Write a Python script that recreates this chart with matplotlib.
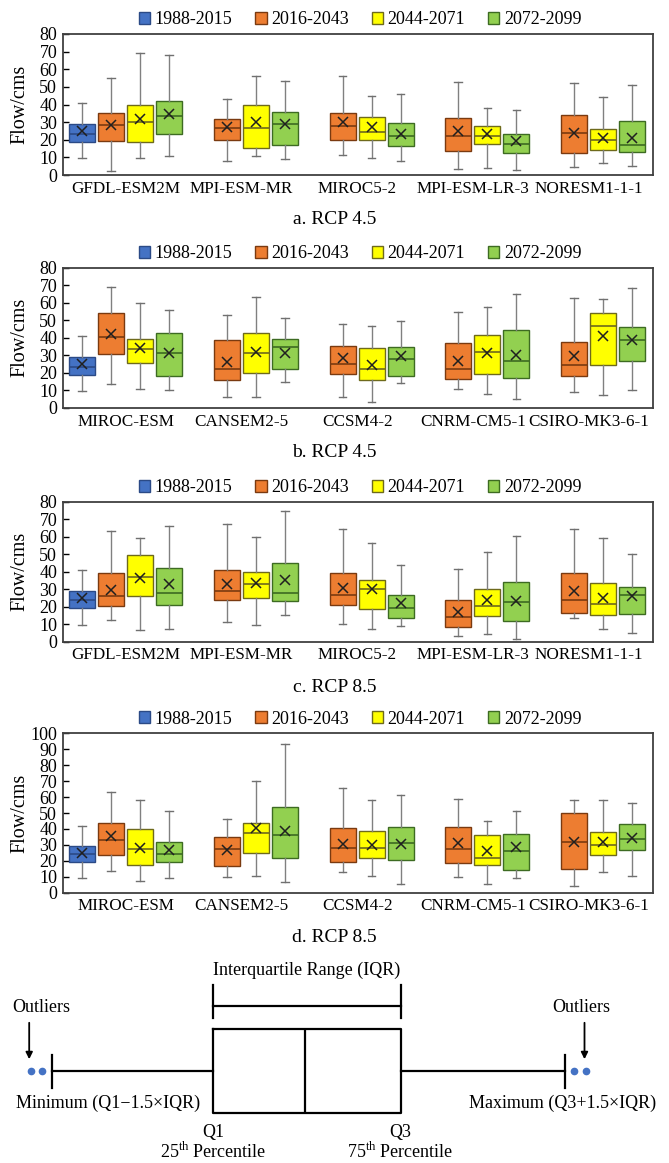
import numpy as np
import matplotlib
matplotlib.use("Agg")
import matplotlib.pyplot as plt
from matplotlib.patches import Patch

plt.rcParams['font.family'] = ['Liberation Serif', 'DejaVu Serif']
plt.rcParams['mathtext.fontset'] = 'custom'
plt.rcParams['mathtext.rm'] = 'Liberation Serif'

nan = np.nan

periods = ['1988-2015', '2016-2043', '2044-2071', '2072-2099']
fill_colors = ['#4472C4', '#ED7D31', '#FFFF00', '#92D050']
edge_colors = ['#2B4A86', '#7A3A10', '#6E6A1C', '#3D6B22']

models_1 = ['GFDL-ESM2M', 'MPI-ESM-MR', 'MIROC5-2', 'MPI-ESM-LR-3', 'NORESM1-1-1']
models_2 = ['MIROC-ESM', 'CANSEM2-5', 'CCSM4-2', 'CNRM-CM5-1', 'CSIRO-MK3-6-1']

# each stat: rows = periods, columns = models (nan = no box)
# a. RCP 4.5
a_low = [[9.5, nan, nan, nan, nan], [2.5, 8, 11.5, 3.5, 4.5], [9.5, 10.5, 9.5, 4, 7], [10.5, 9, 8, 3, 5]]
a_q1 = [[19, nan, nan, nan, nan], [19.5, 20, 20, 13.5, 12.5], [19, 15.5, 20, 17.5, 14], [23.5, 17, 16.5, 12.5, 13]]
a_med = [[23.5, nan, nan, nan, nan], [28.5, 26.5, 28, 22, 24], [30, 26.5, 24.5, 22, 20], [33.5, 29, 22, 17.5, 17]]
a_q3 = [[29, nan, nan, nan, nan], [35, 31.5, 35, 32.5, 34], [39.5, 40, 33, 28, 26], [42, 35.5, 29.5, 23.5, 30.5]]
a_high = [[41, nan, nan, nan, nan], [55, 43, 56, 53, 52], [69, 56, 45, 38, 44], [68, 53.5, 46, 37, 51]]
a_mean = [[25, nan, nan, nan, nan], [28.5, 27, 30, 25, 24], [32, 30, 27, 23.5, 21], [34.5, 29, 23, 19.5, 21]]

# b. RCP 4.5
b_low = [[9.5, nan, nan, nan, nan], [13.5, 6, 6.5, 11, 9], [11, 6.5, 3.5, 8, 7.5], [10.5, 15, 14.5, 5, 10]]
b_q1 = [[19, nan, nan, nan, nan], [31, 16, 19.5, 16.5, 18], [25.5, 20, 16, 19.5, 24.5], [18.5, 22, 18, 17, 27]]
b_med = [[23.5, nan, nan, nan, nan], [40.5, 22, 25, 22.5, 24.5], [33.5, 31.5, 22, 32, 46.5], [31.5, 34.5, 28, 27, 39]]
b_q3 = [[29, nan, nan, nan, nan], [54, 38.5, 35.5, 37, 37.5], [39.5, 42.5, 34, 41.5, 54], [42.5, 39.5, 35, 44.5, 46]]
b_high = [[41, nan, nan, nan, nan], [69, 53, 48, 55, 63], [60, 63.5, 46.5, 57.5, 62], [56, 51.5, 49.5, 65, 68.5]]
b_mean = [[25, nan, nan, nan, nan], [42, 26, 28.5, 27, 29.5], [34, 32, 24.5, 31.5, 41], [31.5, 31.5, 29.5, 30, 39]]

# c. RCP 8.5
c_low = [[9.5, nan, nan, nan, nan], [12.5, 11, 10, 3, 13.5], [6.5, 9.5, 7.5, 4.5, 7], [7.5, 15.5, 9, 1.5, 5]]
c_q1 = [[19, nan, nan, nan, nan], [20.5, 24, 21, 8.5, 16.5], [26, 25, 18.5, 14.5, 15.5], [21, 23.5, 13.5, 12, 16]]
c_med = [[24, nan, nan, nan, nan], [26, 29, 26.5, 14, 24], [37, 33, 30, 20.5, 21.5], [28, 28, 19.5, 22.5, 26.5]]
c_q3 = [[29, nan, nan, nan, nan], [39, 41, 39.5, 24, 39], [49.5, 40, 35.5, 30, 33.5], [42, 45, 26.5, 34, 31]]
c_high = [[41, nan, nan, nan, nan], [63.5, 67, 64.5, 41.5, 64.5], [59, 60, 56.5, 51, 59], [66, 74.5, 44, 60.5, 50]]
c_mean = [[25, nan, nan, nan, nan], [29.5, 33, 30.5, 17, 29], [36.5, 33.5, 30, 24, 25], [33, 35.5, 22, 23, 26]]

# d. RCP 8.5
d_low = [[9.5, nan, nan, nan, nan], [13.5, 10, 13, 10, 4], [7.5, 10.5, 10.5, 5.5, 13], [9.5, 7, 5.5, 9, 10.5]]
d_q1 = [[19, nan, nan, nan, nan], [23.5, 17, 19, 18.5, 15], [17.5, 25, 21.5, 17.5, 23.5], [19, 21.5, 20.5, 14.5, 26.5]]
d_med = [[24.5, nan, nan, nan, nan], [33, 27.5, 28, 27.5, 32], [27.5, 37.5, 28, 22, 30], [24.5, 36.5, 31, 26, 33.5]]
d_q3 = [[29, nan, nan, nan, nan], [44, 35, 40.5, 41, 50], [40, 44, 38.5, 36, 38], [32, 53.5, 41.5, 37, 43]]
d_high = [[42, nan, nan, nan, nan], [63, 46, 65.5, 59, 58], [58, 70, 58, 45, 58], [51.5, 93, 61.5, 51, 56]]
d_mean = [[25, nan, nan, nan, nan], [35.5, 27, 30.5, 31, 32], [28, 40.5, 30, 26, 31.5], [26.5, 39, 30.5, 28.5, 34.5]]

panels = [
    ('a. RCP 4.5', models_1, (a_low, a_q1, a_med, a_q3, a_high, a_mean), 80),
    ('b. RCP 4.5', models_2, (b_low, b_q1, b_med, b_q3, b_high, b_mean), 80),
    ('c. RCP 8.5', models_1, (c_low, c_q1, c_med, c_q3, c_high, c_mean), 80),
    ('d. RCP 8.5', models_2, (d_low, d_q1, d_med, d_q3, d_high, d_mean), 100),
]

# schematic (horizontal box, in pixel-like units)
sch_fliers_lo = [30.7, 42.3]
sch_fliers_hi = [574, 586]
sch_stats = dict(whislo=52.3, q1=213.3, med=305, q3=400.7, whishi=565)

W, H = 669, 1163
fig = plt.figure(figsize=(W / 100, H / 100), dpi=100)

# axes placement in pixels: (top, bottom), caption y
axes_px = [(34, 175, 219), (267.7, 408, 452), (501.7, 641.7, 687), (733.3, 892.7, 937)]
left_px, right_px = 62.7, 652.7

slot = 0.251
box_w = 0.225

for (caption, models, stats, ymax), (top, bot, cap_y) in zip(panels, axes_px):
    ax = fig.add_axes([left_px / W, 1 - bot / H, (right_px - left_px) / W, (bot - top) / H])
    low, q1, med, q3, high, mean = [np.array(s, dtype=float) for s in stats]
    for j in range(len(periods)):
        bstats, pos = [], []
        for i in range(len(models)):
            if np.isnan(q1[j, i]):
                continue
            bstats.append(dict(whislo=low[j, i], q1=q1[j, i], med=med[j, i], q3=q3[j, i],
                               whishi=high[j, i], mean=mean[j, i], fliers=[]))
            pos.append(i + (j - 1.5) * slot)
        ax.bxp(bstats, positions=pos, widths=box_w, patch_artist=True, showmeans=True,
               capwidths=0.066,
               boxprops=dict(facecolor=fill_colors[j], edgecolor=edge_colors[j], linewidth=1.0),
               medianprops=dict(color=edge_colors[j], linewidth=1.2),
               whiskerprops=dict(color='#808080', linewidth=1.0),
               capprops=dict(color='#707070', linewidth=1.0),
               meanprops=dict(marker='x', markersize=6.5, markeredgecolor='#202020',
                              markeredgewidth=1.1),
               zorder=3)
    ax.set_xlim(-0.545, 4.555)
    ax.set_ylim(0, ymax)
    ax.set_yticks(np.arange(0, ymax + 1, 10))
    ax.set_xticks(range(len(models)))
    ax.set_xticklabels(models)
    ax.tick_params(axis='y', direction='in', length=4, width=1.0, labelsize=13, pad=4)
    ax.tick_params(axis='x', length=0, labelsize=12.3, pad=4)
    for sp in ax.spines.values():
        sp.set_color('#404040')
        sp.set_linewidth(1.3)
    ax.set_ylabel('Flow/cms', fontsize=14.5)
    ax.yaxis.set_label_coords(-0.056, 0.5)

    handles = [Patch(facecolor=c, edgecolor=e, linewidth=1.0) for c, e in zip(fill_colors, edge_colors)]
    h_px = bot - top
    ax.legend(handles, periods, loc='center', bbox_to_anchor=(0.504, 1 + 14 / h_px), ncol=4,
              frameon=False, fontsize=13, handlelength=0.64, handleheight=0.64,
              handletextpad=0.25, columnspacing=1.25, borderaxespad=0, borderpad=0)
    fig.text(0.5, 1 - cap_y / H, caption, ha='center', va='center', fontsize=14)

# ---- box plot explanation at the bottom ----
top_s, bot_s = 930, 1163
sx = fig.add_axes([0, 1 - bot_s / H, 1, (bot_s - top_s) / H])
sx.set_xlim(0, W)
sx.set_ylim(bot_s, top_s)
sx.axis('off')

box_y, box_h = 1071, 84
sx.bxp([dict(sch_stats, fliers=[])], positions=[box_y], widths=box_h, orientation='horizontal',
       capwidths=33, showfliers=False,
       boxprops=dict(color='black', linewidth=1.6),
       medianprops=dict(color='black', linewidth=1.6),
       whiskerprops=dict(color='black', linewidth=1.6),
       capprops=dict(color='black', linewidth=1.6))
sx.plot(sch_fliers_lo + sch_fliers_hi, [box_y] * 4, 'o', color='#4472C4', markersize=4.5)

# IQR bracket
iq_y = 1006
sx.plot([sch_stats['q1'], sch_stats['q3']], [iq_y, iq_y], color='black', lw=1.6)
for xq in (sch_stats['q1'], sch_stats['q3']):
    sx.plot([xq, xq], [iq_y - 21, iq_y + 12], color='black', lw=1.6)
sx.text((sch_stats['q1'] + sch_stats['q3']) / 2, 970, 'Interquartile Range (IQR)',
        ha='center', va='center', fontsize=13)

# outlier labels and arrows
for tx, ax_x in ((41, sch_fliers_lo[0]), (581, sch_fliers_hi[1])):
    sx.text(tx, 1007, 'Outliers', ha='center', va='center', fontsize=13)
    sx.annotate('', xy=(ax_x - 1.5, 1062), xytext=(ax_x - 1.5, 1020),
                arrowprops=dict(arrowstyle='-|>', color='black', lw=1.3, mutation_scale=10))

sx.text(108, 1103, 'Minimum (Q1\u22121.5\u00d7IQR)', ha='center', va='center', fontsize=13)
sx.text(563, 1103, 'Maximum (Q3+1.5\u00d7IQR)', ha='center', va='center', fontsize=13)
sx.text(sch_stats['q1'], 1132, 'Q1', ha='center', va='center', fontsize=13)
sx.text(sch_stats['q3'], 1132, 'Q3', ha='center', va='center', fontsize=13)
sx.text(sch_stats['q1'], 1152, r'25$^{\mathrm{th}}$ Percentile', ha='center', va='center', fontsize=13)
sx.text(sch_stats['q3'], 1152, r'75$^{\mathrm{th}}$ Percentile', ha='center', va='center', fontsize=13)

fig.savefig('out.png', dpi=100)
